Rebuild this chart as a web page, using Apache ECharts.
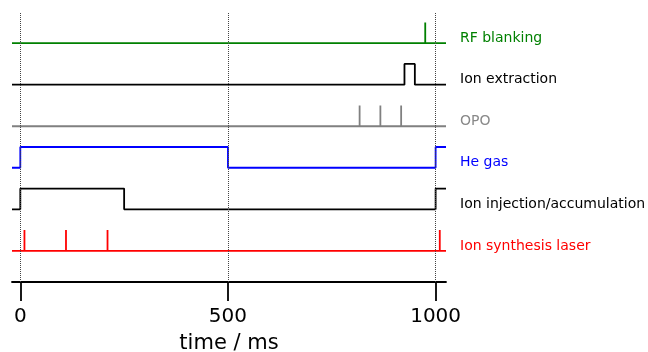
<!DOCTYPE html>
<html>
<head>
<meta charset="utf-8">
<script src="https://cdn.jsdelivr.net/npm/echarts@6/dist/echarts.min.js"></script>
<style>
  html, body { margin: 0; padding: 0; background: #fff; }
  #chart { width: 648px; height: 352px; }
</style>
</head>
<body>
<div id="chart"></div>
<script>
// time axis (ms)
const xMin = -20;
const xMax = 1025;
const tickValues = [0, 500, 1000];

// trace names / colours, bottom to top offsets
const traceNames = ['Ion synthesis laser', 'Ion injection/accumulation', 'He gas', 'OPO', 'Ion extraction', 'RF blanking'];
const traceColors = ['#ff0000', '#000000', '#0000ff', '#808080', '#000000', '#008000'];
const traceOffsets = [0, 1, 2, 3, 4, 5];
const pulseHeight = 0.5;

// event times (ms)
const laserShots = [10, 110, 210, 1010];
const injectionOn = [[0, 250], [1000, 1025]];
const heGasOn = [[0, 500], [1000, 1025]];
const opoShots = [817, 867, 917];
const extractionOn = [[925, 950]];
const rfShots = [975];

function spikes(times, base) {
  const d = [[xMin, base]];
  times.forEach(t => { d.push([t, base], [t, base + pulseHeight], [t, base]); });
  d.push([xMax, base]);
  return d;
}
function pulses(ranges, base) {
  const d = [[xMin, base]];
  ranges.forEach(([a, b]) => {
    d.push([a, base], [a, base + pulseHeight]);
    d.push([b, base + pulseHeight]);
    if (b < xMax) d.push([b, base]);
  });
  const last = d[d.length - 1];
  if (last[0] < xMax) d.push([xMax, base]);
  return d;
}

const traceData = [
  spikes(laserShots, traceOffsets[0]),
  pulses(injectionOn, traceOffsets[1]),
  pulses(heGasOn, traceOffsets[2]),
  spikes(opoShots, traceOffsets[3]),
  pulses(extractionOn, traceOffsets[4]),
  spikes(rfShots, traceOffsets[5])
];

const chart = echarts.init(document.getElementById('chart'));

const series = traceData.map((d, i) => ({
  type: 'line',
  data: d,
  symbol: 'none',
  silent: true,
  animation: false,
  lineStyle: { color: traceColors[i], width: 1.8 },
  z: 3
}));

// vertical dotted guides
series.push({
  type: 'line',
  data: [],
  silent: true,
  animation: false,
  markLine: {
    symbol: 'none',
    silent: true,
    label: { show: false },
    lineStyle: { color: '#444', type: 'dotted', width: 1 },
    data: tickValues.map(v => ({ xAxis: v }))
  }
});

// labels on the right
series.push({
  type: 'scatter',
  symbolSize: 0,
  silent: true,
  animation: false,
  clip: false,
  itemStyle: { opacity: 1 },
  data: traceNames.map((n, i) => ({
    value: [xMax, traceOffsets[i] + 0.12],
    name: n,
    label: { color: traceColors[i] === '#808080' ? '#888888' : traceColors[i] }
  })),
  label: {
    show: true,
    opacity: 1,
    position: 'right',
    distance: 14,
    formatter: p => p.name,
    fontFamily: 'DejaVu Sans',
    fontSize: 14
  }
});

chart.setOption({
  backgroundColor: '#fff',
  animation: false,
  grid: { left: 12, right: 202, top: 12, bottom: 70, outerBoundsMode: 'none' },
  xAxis: {
    type: 'value',
    min: xMin,
    max: xMax,
    name: 'time / ms',
    nameLocation: 'middle',
    nameGap: 51,
    nameTextStyle: { fontFamily: 'DejaVu Sans', fontSize: 21, color: '#000' },
    axisLine: { show: true, onZero: false, lineStyle: { color: '#000', width: 1.8 } },
    axisTick: { show: true, customValues: tickValues, length: 19, inside: false, lineStyle: { color: '#000', width: 1.8 } },
    axisLabel: {
      customValues: tickValues,
      formatter: v => String(v),
      fontFamily: 'DejaVu Sans',
      fontSize: 20,
      color: '#000',
      margin: 25
    },
    splitLine: { show: false }
  },
  yAxis: {
    type: 'value',
    min: -0.75,
    max: 5.75,
    show: false,
    splitLine: { show: false }
  },
  series: series
});
</script>
</body>
</html>
